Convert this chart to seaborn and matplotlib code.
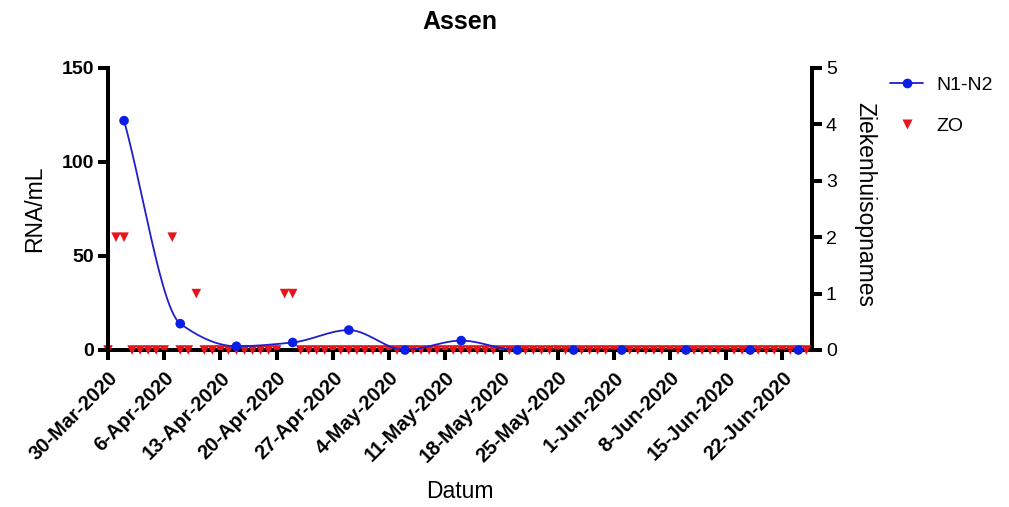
import numpy as np
import pandas as pd
import seaborn as sns
import matplotlib
matplotlib.use('Agg')
from matplotlib import pyplot as plt
from matplotlib.lines import Line2D

# N1-N2 (RNA/mL), sampled roughly weekly
rna_dates = ['2020-04-01', '2020-04-08', '2020-04-15', '2020-04-22', '2020-04-29', '2020-05-06',
             '2020-05-13', '2020-05-20', '2020-05-27', '2020-06-02', '2020-06-10', '2020-06-18',
             '2020-06-24']
rna_values = [122, 14, 2, 4, 10.6, 0, 5, 0, 0, 0, 0, 0, 0]

# ZO (Ziekenhuisopnames), daily from 30-Mar-2020
zo_start = '2020-03-30'
zo_values = [0, 2, 2, 0, 0, 0, 0, 0, 2, 0, 0, 1, 0, 0,
             0, 0, 0, 0, 0, 0, 0, 0, 1, 1, 0, 0, 0, 0,
             0, 0, 0, 0, 0, 0, 0, 0, 0, 0, 0, 0, 0, 0,
             0, 0, 0, 0, 0, 0, 0, 0, 0, 0, 0, 0, 0, 0,
             0, 0, 0, 0, 0, 0, 0, 0, 0, 0, 0, 0, 0, 0,
             0, 0, 0, 0, 0, 0, 0, 0, 0, 0, 0, 0, 0, 0,
             0, 0, 0, 0]

tick_dates = ['2020-03-30', '2020-04-06', '2020-04-13', '2020-04-20', '2020-04-27', '2020-05-04',
              '2020-05-11', '2020-05-18', '2020-05-25', '2020-06-01', '2020-06-08', '2020-06-15',
              '2020-06-22']


def pchip(x, y, xs):
    """ Monotone cubic interpolation (Fritsch-Carlson) used to draw the smooth line. """
    x = np.asarray(x, float)
    y = np.asarray(y, float)
    h = np.diff(x)
    d = np.diff(y) / h
    m = np.zeros_like(y)
    for k in range(1, len(x) - 1):
        if d[k - 1] * d[k] > 0:
            w1 = 2 * h[k] + h[k - 1]
            w2 = h[k] + 2 * h[k - 1]
            m[k] = (w1 + w2) / (w1 / d[k - 1] + w2 / d[k])
    m[0] = d[0]
    m[-1] = d[-1]
    idx = np.clip(np.searchsorted(x, xs) - 1, 0, len(h) - 1)
    t = (xs - x[idx]) / h[idx]
    h00 = 2 * t ** 3 - 3 * t ** 2 + 1
    h10 = t ** 3 - 2 * t ** 2 + t
    h01 = -2 * t ** 3 + 3 * t ** 2
    h11 = t ** 3 - t ** 2
    return h00 * y[idx] + h10 * h[idx] * m[idx] + h01 * y[idx + 1] + h11 * h[idx] * m[idx + 1]


sns.set_theme(style='ticks')
plt.rcParams['font.family'] = ['Liberation Sans', 'DejaVu Sans']
plt.rcParams['text.color'] = 'black'
plt.rcParams['axes.labelcolor'] = 'black'

rna = pd.DataFrame({'datum': pd.to_datetime(rna_dates), 'rna': rna_values})
zo = pd.DataFrame({'datum': pd.date_range(zo_start, periods=len(zo_values), freq='D'), 'zo': zo_values})

start = pd.Timestamp(zo_start)
rna_days = (rna['datum'] - start).dt.days.values
fine_days = np.linspace(rna_days[0], rna_days[-1], 600)
fine = pd.DataFrame({'datum': start + pd.to_timedelta(fine_days, unit='D'),
                     'rna': np.clip(pchip(rna_days, rna['rna'].values, fine_days), 0, None)})

fig = plt.figure(figsize=(10.09, 5.07), dpi=100)
ax = fig.add_axes([108 / 1009, 1 - 350 / 507, 704 / 1009, 282 / 507])
ax2 = ax.twinx()

ax2.set_zorder(1)
ax.set_zorder(2)
ax.patch.set_visible(False)

sns.scatterplot(ax=ax2, data=zo, x='datum', y='zo', marker='v', color='#e8141a', s=48,
                edgecolor='none', clip_on=False, legend=False, zorder=3)
sns.lineplot(ax=ax, data=fine, x='datum', y='rna', color='#1f1fcc', linewidth=1.3, legend=False)
sns.scatterplot(ax=ax, data=rna, x='datum', y='rna', color='#0a1ee6', s=48, edgecolor='none',
                clip_on=False, legend=False, zorder=4)

ax.set_xlim(start, start + pd.Timedelta(days=87.7))
ax.set_ylim(0, 150)
ax.set_yticks([0, 50, 100, 150])
ax2.set_ylim(0, 5)
ax2.set_yticks([0, 1, 2, 3, 4, 5])

ticks = pd.to_datetime(tick_dates)
ax.set_xticks(ticks)
ax.set_xticklabels([f'{d.day}-{d.strftime("%b-%Y")}' for d in ticks], rotation=45, ha='right',
                   rotation_mode='anchor', fontsize=14.5, fontweight='bold')
for lab in ax.get_yticklabels():
    lab.set_fontweight('bold')
    lab.set_fontsize(14)
for lab in ax2.get_yticklabels():
    lab.set_fontsize(14)

for a in (ax, ax2):
    a.spines['top'].set_visible(False)
    for s in ('left', 'right', 'bottom'):
        a.spines[s].set_linewidth(2.9)
        a.spines[s].set_color('black')
    a.tick_params(axis='both', which='major', length=7, width=2.9, color='black', labelcolor='black')
# bottom spine from the lower (ZO) axes so the triangles sit on top of it
ax.spines['right'].set_visible(False)
ax.spines['bottom'].set_visible(False)
ax2.spines['left'].set_visible(False)
ax.tick_params(axis='x', pad=6)
ax.tick_params(axis='y', pad=3)
ax2.tick_params(axis='y', pad=3)

ax.set_xlabel('Datum', fontsize=16.5, va='center')
ax.xaxis.set_label_coords(0.5, (350 - 491) / 282)
ax.set_ylabel('RNA/mL', fontsize=16.5, va='center')
ax.yaxis.set_label_coords((35 - 108) / 704, 0.5)
ax2.set_ylabel('Ziekenhuisopnames', fontsize=16.5, rotation=270, va='center')
ax2.yaxis.set_label_coords((865 - 108) / 704, 0.515)

fig.text(460 / 1009, 1 - 22 / 507, 'Assen', ha='center', va='center', fontsize=18, fontweight='bold')

handles = [Line2D([], [], color='#1f1fcc', marker='o', markersize=7, markerfacecolor='#0a1ee6',
                  markeredgecolor='none', linewidth=1.3),
           Line2D([], [], color='#e8141a', marker='v', markersize=7, linestyle='none',
                  markeredgecolor='none')]
fig.legend(handles, ['N1-N2', 'ZO'], loc='upper left', bbox_to_anchor=(890 / 1009, 1 - 76 / 507),
           frameon=False, fontsize=14, borderaxespad=0, borderpad=0, handlelength=1.7,
           handletextpad=0.7, labelspacing=1.2)

plt.savefig('out.png', dpi=100)
